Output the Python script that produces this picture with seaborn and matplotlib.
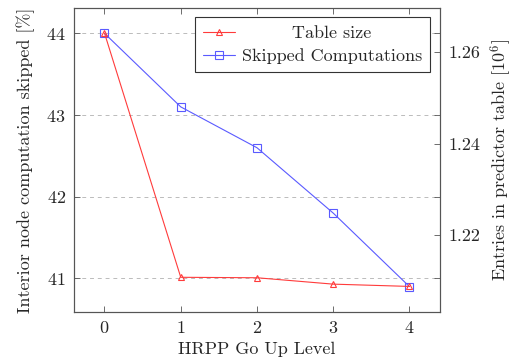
import matplotlib
matplotlib.use("Agg")
import matplotlib.pyplot as plt
import seaborn as sns
import pandas as pd
import numpy as np

# data
levels = [0, 1, 2, 3, 4]
skipped = [44.0, 43.1, 42.6, 41.8, 40.9]              # [%]
table_size = [1.2642, 1.2107, 1.2106, 1.2092, 1.2087]  # [10^6]

sns.set_style("ticks")
plt.rcParams["font.family"] = ["cmr10", "DejaVu Serif"]
plt.rcParams["mathtext.fontset"] = "cm"
plt.rcParams["axes.formatter.use_mathtext"] = True
plt.rcParams["font.size"] = 13

red = "#ff3b3b"
blue = "#5a5aff"
edge = "#555555"

df = pd.DataFrame({"level": levels, "skipped": skipped, "table": table_size})

fig = plt.figure(figsize=(5.16, 3.64), dpi=100)
ax = fig.add_axes([0.1434, 0.1429, 0.7093, 0.8351])
ax2 = ax.twinx()

sns.lineplot(data=df, x="level", y="table", ax=ax2, color=red, linewidth=0.8,
             marker="^", markersize=5, markerfacecolor="none",
             markeredgecolor=red, markeredgewidth=0.8, label="Table size", legend=False)
sns.lineplot(data=df, x="level", y="skipped", ax=ax, color=blue, linewidth=0.8,
             marker="s", markersize=6, markerfacecolor="none",
             markeredgecolor=blue, markeredgewidth=0.8, label="Skipped Computations", legend=False)

ax.set_xlim(-0.4, 4.4)
ax.set_ylim(40.59, 44.31)
ax2.set_ylim(1.2031, 1.2697)
ax.set_xticks(levels)
ax.set_yticks([41, 42, 43, 44])
ax2.set_yticks([1.22, 1.24, 1.26])
ax2.set_yticklabels(["1.22", "1.24", "1.26"])

ax.grid(axis="y", color="#bbbbbb", linestyle=(0, (4, 4)), linewidth=0.7)
ax.set_axisbelow(True)

ax.set_xlabel("HRPP Go Up Level", labelpad=4)
ax.set_ylabel("Interior node computation skipped [%]", labelpad=8)
ax2.set_ylabel("Entries in predictor table [$10^6$]", labelpad=6)

for a in (ax, ax2):
    for s in a.spines.values():
        s.set_color(edge)
        s.set_linewidth(0.8)
ax.tick_params(direction="in", top=True, right=True, length=4, width=0.6, color=edge, pad=6)
ax2.tick_params(direction="in", length=4, width=0.6, color=edge, pad=6)

handles = ax2.get_lines()[:1] + ax.get_lines()[:1]
leg = ax2.legend(handles, ["Table size", "Skipped Computations"], loc="upper right",
                 bbox_to_anchor=(0.973, 0.970), fancybox=False, framealpha=1,
                 edgecolor="#333333", handlelength=1.8, borderpad=0.45,
                 labelspacing=0.4, handletextpad=0.35, borderaxespad=0)
leg.get_frame().set_linewidth(0.8)

# center legend texts like the original
fig.canvas.draw()
texts = leg.get_texts()
widths = [t.get_window_extent().width for t in texts]
wmax = max(widths)
for t, w in zip(texts, widths):
    t.set_x((wmax - w) / 2)

fig.savefig("out.png", dpi=100)
